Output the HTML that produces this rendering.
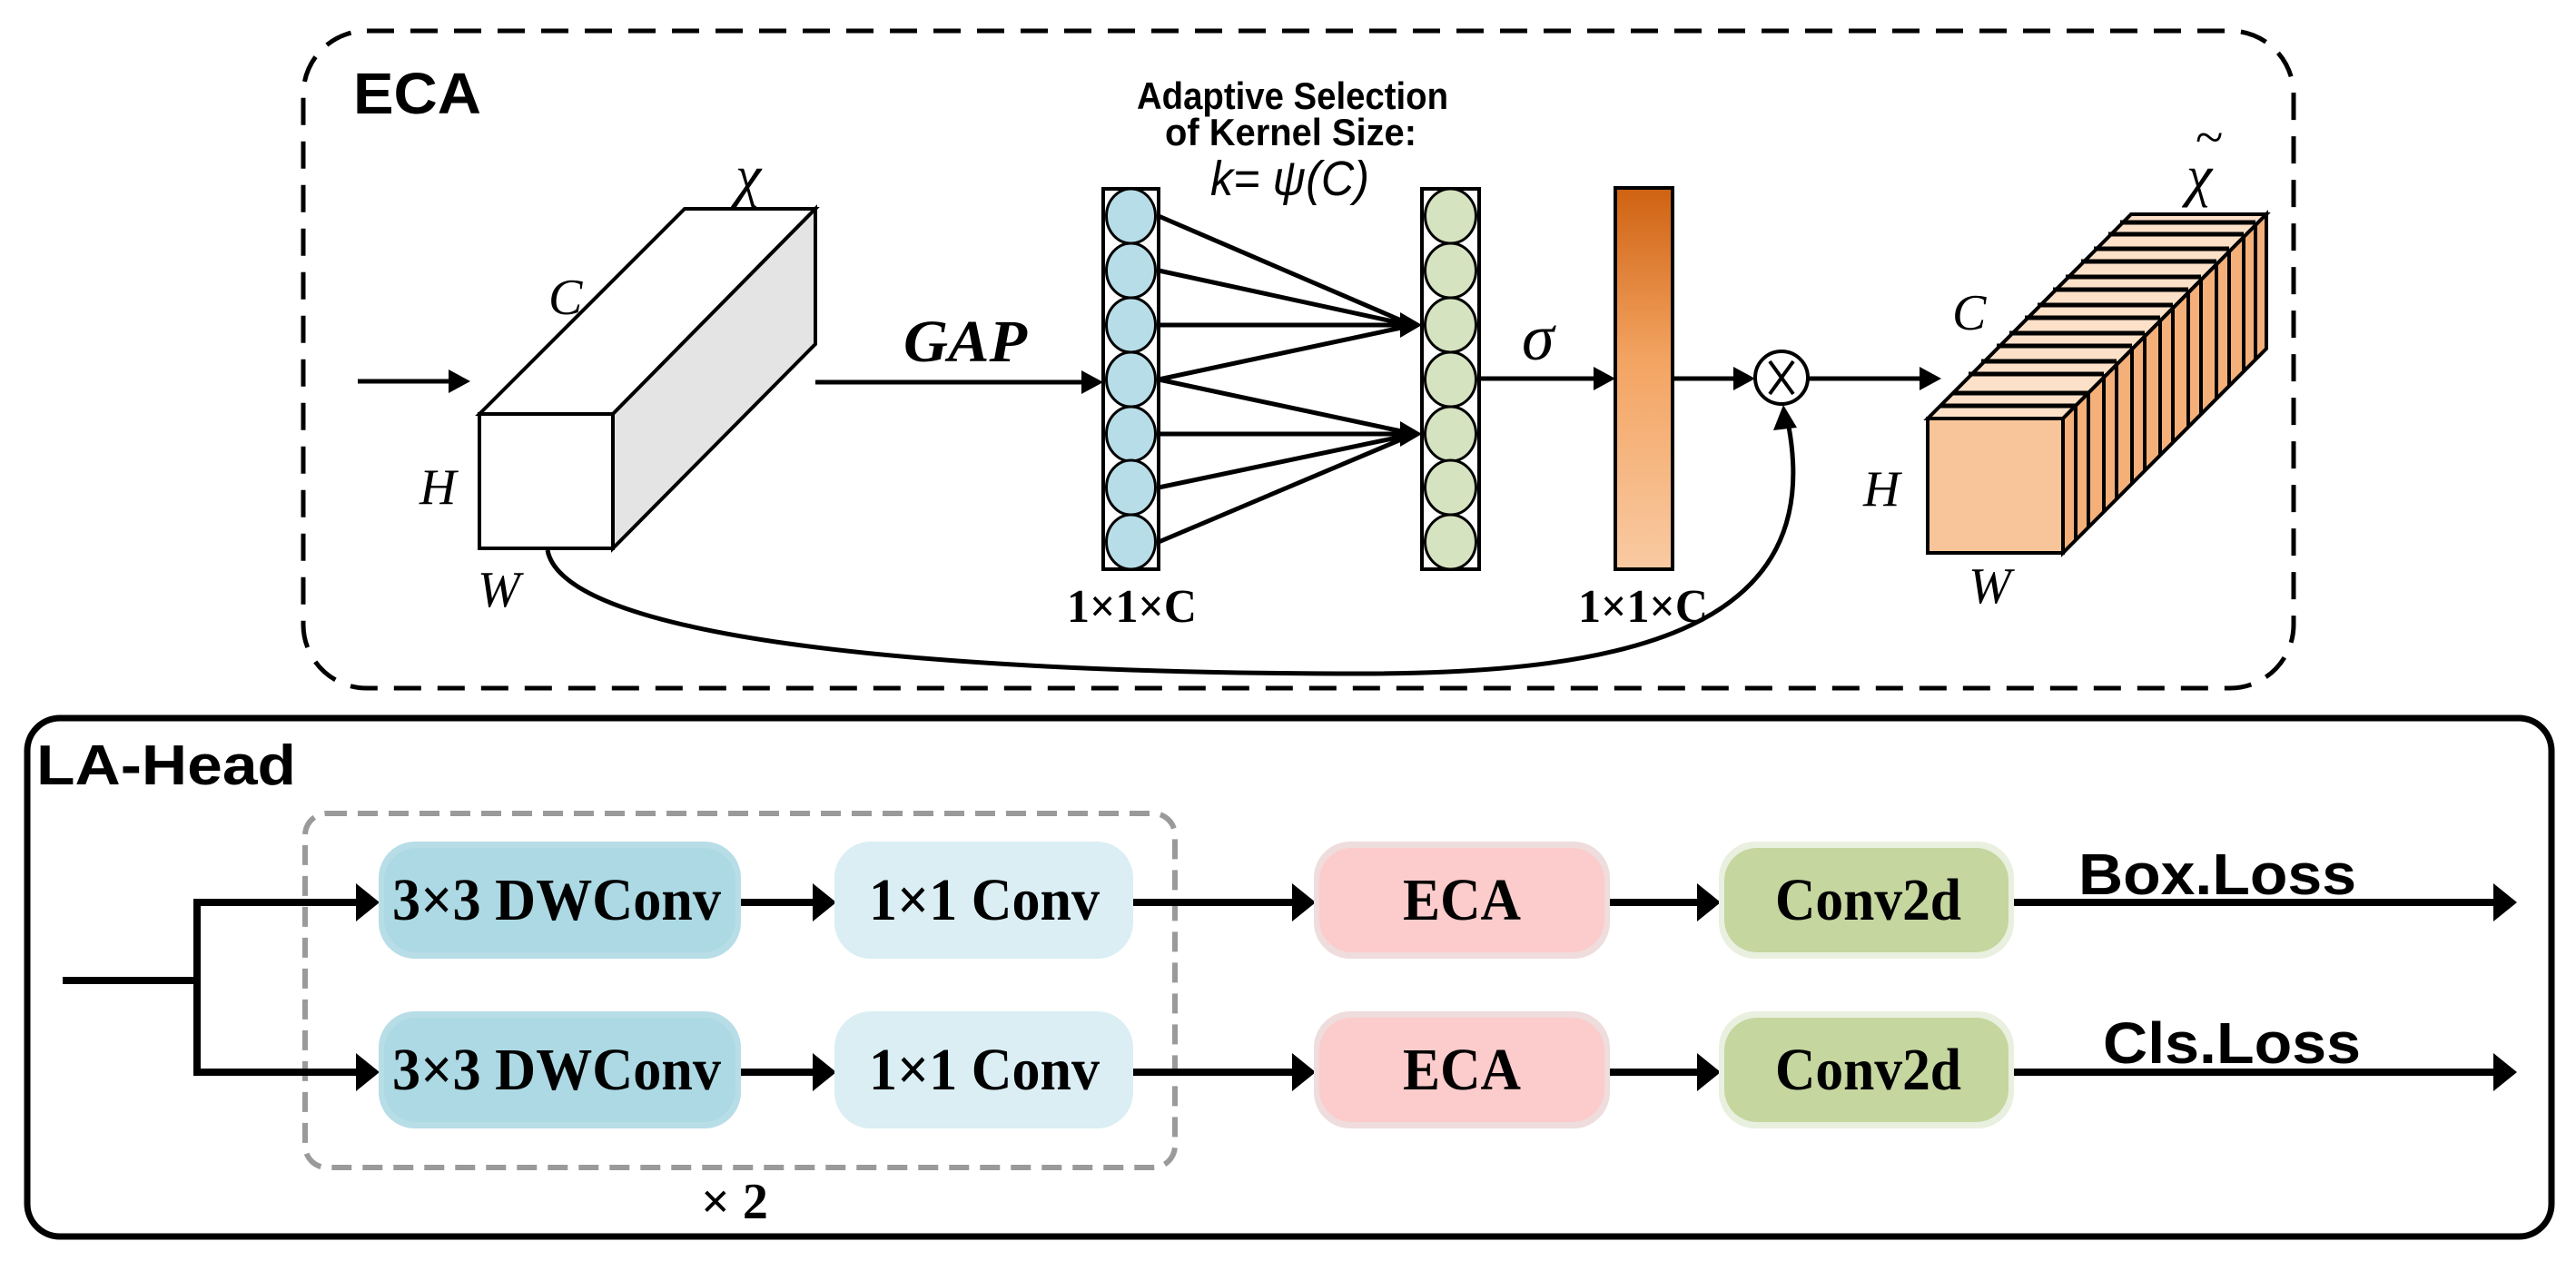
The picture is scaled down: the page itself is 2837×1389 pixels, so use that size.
<!DOCTYPE html>
<html><head><meta charset="utf-8"><style>
html,body{margin:0;padding:0;background:#fff;}
svg{display:block;}
</style></head><body>
<svg width="2837" height="1389" viewBox="0 0 2837 1389" xmlns="http://www.w3.org/2000/svg">
<defs>
<linearGradient id="og" x1="0" y1="0" x2="0" y2="1">
<stop offset="0" stop-color="#cf6212"/><stop offset="0.45" stop-color="#f3a462"/><stop offset="1" stop-color="#f9caa2"/>
</linearGradient>
</defs>

<!-- ECA dashed box -->
<rect x="334" y="34" width="2192" height="724" rx="70" fill="none" stroke="#000" stroke-width="5" stroke-dasharray="30,18"/>
<text x="389" y="125" font-family="Liberation Sans, sans-serif" font-weight="bold" font-size="64" textLength="141" lengthAdjust="spacingAndGlyphs">ECA</text>

<!-- input arrow -->
<line x1="394" y1="420" x2="500" y2="420" stroke="#000" stroke-width="5"/>
<polygon points="518,420 494,407 494,433" fill="#000"/>

<!-- left cuboid -->
<polygon points="528,456 754,230 898,230 675,456" fill="#fff" stroke="#000" stroke-width="4"/>
<polygon points="675,456 898,230 898,379 675,604" fill="#e4e4e4" stroke="#000" stroke-width="4"/>
<rect x="528" y="456" width="147" height="148" fill="#fff" stroke="#000" stroke-width="4"/>
<g font-family="Liberation Serif, serif" font-style="italic" font-size="56">
<text x="810" y="215" font-size="64">χ</text>
<text x="604" y="346">C</text>
<text x="462" y="555">H</text>
<text x="526" y="668">W</text>
</g>

<!-- GAP -->
<text x="995" y="398" font-family="Liberation Serif, serif" font-style="italic" font-weight="bold" font-size="66" textLength="136" lengthAdjust="spacingAndGlyphs">GAP</text>
<line x1="898" y1="421" x2="1195" y2="421" stroke="#000" stroke-width="5"/>
<polygon points="1215,421 1191,408 1191,434" fill="#000"/>

<!-- Adaptive text -->
<g font-family="Liberation Sans, sans-serif" font-weight="bold" font-size="42">
<text x="1252" y="120" textLength="343" lengthAdjust="spacingAndGlyphs">Adaptive Selection</text>
<text x="1283" y="160" textLength="277" lengthAdjust="spacingAndGlyphs">of Kernel Size:</text>
</g>
<text x="1333" y="215" font-family="Liberation Sans, sans-serif" font-style="italic" font-size="54" textLength="175" lengthAdjust="spacingAndGlyphs">k= ψ(C)</text>

<!-- connections -->
<g stroke="#000" stroke-width="5">
<line x1="1276" y1="238" x2="1548" y2="355"/>
<line x1="1276" y1="298" x2="1548" y2="357"/>
<line x1="1276" y1="358" x2="1548" y2="358"/>
<line x1="1276" y1="418" x2="1548" y2="360"/>
<line x1="1276" y1="418" x2="1548" y2="476"/>
<line x1="1276" y1="478" x2="1548" y2="478"/>
<line x1="1276" y1="537" x2="1548" y2="480"/>
<line x1="1276" y1="597" x2="1548" y2="482"/>
</g>
<polygon points="1566,358 1542,344 1542,372" fill="#000"/>
<polygon points="1566,478 1542,464 1542,492" fill="#000"/>

<!-- blue column -->
<rect x="1215" y="208" width="61" height="419" fill="#fff" stroke="#000" stroke-width="4"/>
<g fill="#b7dde8" stroke="#000" stroke-width="3">
<ellipse cx="1245.5" cy="238" rx="27" ry="30"/>
<ellipse cx="1245.5" cy="298" rx="27" ry="30"/>
<ellipse cx="1245.5" cy="358" rx="27" ry="30"/>
<ellipse cx="1245.5" cy="418" rx="27" ry="30"/>
<ellipse cx="1245.5" cy="478" rx="27" ry="30"/>
<ellipse cx="1245.5" cy="537" rx="27" ry="30"/>
<ellipse cx="1245.5" cy="597" rx="27" ry="30"/>
</g>
<!-- green column -->
<rect x="1566" y="208" width="63" height="419" fill="#fff" stroke="#000" stroke-width="4"/>
<g fill="#d6e3c0" stroke="#000" stroke-width="3">
<ellipse cx="1597.5" cy="238" rx="28" ry="30"/>
<ellipse cx="1597.5" cy="298" rx="28" ry="30"/>
<ellipse cx="1597.5" cy="358" rx="28" ry="30"/>
<ellipse cx="1597.5" cy="418" rx="28" ry="30"/>
<ellipse cx="1597.5" cy="478" rx="28" ry="30"/>
<ellipse cx="1597.5" cy="537" rx="28" ry="30"/>
<ellipse cx="1597.5" cy="597" rx="28" ry="30"/>
</g>
<text x="1175" y="685" font-family="Liberation Serif, serif" font-weight="bold" font-size="52" textLength="143" lengthAdjust="spacingAndGlyphs">1×1×C</text>

<!-- sigma -->
<text x="1676" y="396" font-family="Liberation Serif, serif" font-style="italic" font-size="72">σ</text>
<line x1="1629" y1="417" x2="1760" y2="417" stroke="#000" stroke-width="5"/>
<polygon points="1779,417 1755,404 1755,430" fill="#000"/>

<!-- orange bar -->
<rect x="1779" y="207" width="63" height="420" fill="url(#og)" stroke="#000" stroke-width="4"/>
<text x="1738" y="685" font-family="Liberation Serif, serif" font-weight="bold" font-size="52" textLength="143" lengthAdjust="spacingAndGlyphs">1×1×C</text>

<line x1="1842" y1="417" x2="1915" y2="417" stroke="#000" stroke-width="5"/>
<polygon points="1933,417 1909,404 1909,430" fill="#000"/>
<circle cx="1962" cy="416" r="29" fill="#fff" stroke="#000" stroke-width="4"/>
<path d="M1949,398 L1975,434 M1975,398 L1949,434" stroke="#000" stroke-width="4"/>
<line x1="1991" y1="417" x2="2118" y2="417" stroke="#000" stroke-width="5"/>
<polygon points="2138,417 2114,404 2114,430" fill="#000"/>

<!-- curve -->
<path d="M603,606 C620,700 1000,742 1500,742 C1800,742 2010,690 1970,470" fill="none" stroke="#000" stroke-width="5"/>
<polygon points="1964,446 1953,474 1979,471" fill="#000"/>

<!-- right cuboid -->
<polygon points="2123,461 2347,236 2496,236 2272,461" fill="#fde0c8" stroke="#000" stroke-width="4"/>
<polygon points="2272,461 2496,236 2496,384 2272,609" fill="#f5b07a" stroke="#000" stroke-width="4"/>
<g stroke="#000" stroke-width="5">
<line x1="2137" y1="447" x2="2286" y2="447"/>
<line x1="2151" y1="433" x2="2300" y2="433"/>
<line x1="2168" y1="412" x2="2317" y2="412"/>
<line x1="2182" y1="398" x2="2331" y2="398"/>
<line x1="2199" y1="381" x2="2348" y2="381"/>
<line x1="2213" y1="367" x2="2362" y2="367"/>
<line x1="2230" y1="350" x2="2379" y2="350"/>
<line x1="2244" y1="336" x2="2393" y2="336"/>
<line x1="2261" y1="319" x2="2410" y2="319"/>
<line x1="2275" y1="305" x2="2424" y2="305"/>
<line x1="2292" y1="288" x2="2441" y2="288"/>
<line x1="2306" y1="274" x2="2455" y2="274"/>
<line x1="2322" y1="258" x2="2471" y2="258"/>
<line x1="2335" y1="245" x2="2484" y2="245"/>
</g>
<g stroke="#000" stroke-width="4">
<line x1="2286" y1="447" x2="2286" y2="595"/>
<line x1="2300" y1="433" x2="2300" y2="581"/>
<line x1="2317" y1="412" x2="2317" y2="564"/>
<line x1="2331" y1="398" x2="2331" y2="550"/>
<line x1="2348" y1="381" x2="2348" y2="533"/>
<line x1="2362" y1="367" x2="2362" y2="519"/>
<line x1="2379" y1="350" x2="2379" y2="502"/>
<line x1="2393" y1="336" x2="2393" y2="488"/>
<line x1="2410" y1="319" x2="2410" y2="471"/>
<line x1="2424" y1="305" x2="2424" y2="457"/>
<line x1="2441" y1="288" x2="2441" y2="440"/>
<line x1="2455" y1="274" x2="2455" y2="426"/>
<line x1="2471" y1="258" x2="2471" y2="409"/>
<line x1="2484" y1="245" x2="2484" y2="396"/>
</g>
<rect x="2123" y="461" width="149" height="148" fill="#f8c59a" stroke="#000" stroke-width="4"/>
<g font-family="Liberation Serif, serif" font-style="italic" font-size="56">
<text x="2408" y="215" font-size="64">χ</text>
<text x="2418" y="170" font-size="56" font-style="normal">~</text>
<text x="2150" y="363">C</text>
<text x="2052" y="557">H</text>
<text x="2168" y="664">W</text>
</g>

<!-- LA-Head box -->
<rect x="30" y="791" width="2780" height="571" rx="36" fill="none" stroke="#000" stroke-width="7"/>
<text x="40" y="864" font-family="Liberation Sans, sans-serif" font-weight="bold" font-size="62" textLength="286" lengthAdjust="spacingAndGlyphs">LA-Head</text>

<!-- gray dashed -->
<rect x="336" y="896" width="958" height="390" rx="24" fill="none" stroke="#9a9a9a" stroke-width="6" stroke-dasharray="22,12"/>
<text x="772" y="1342" font-family="Liberation Serif, serif" font-weight="bold" font-size="56">× 2</text>

<!-- lines -->
<g stroke="#000" stroke-width="8" fill="none">
<line x1="69" y1="1080" x2="221" y2="1080"/>
<line x1="217" y1="990" x2="217" y2="1185"/>
<line x1="217" y1="994" x2="396" y2="994"/>
<line x1="217" y1="1181" x2="396" y2="1181"/>
<line x1="814" y1="994" x2="900" y2="994"/>
<line x1="814" y1="1181" x2="900" y2="1181"/>
<line x1="1248" y1="994" x2="1428" y2="994"/>
<line x1="1248" y1="1181" x2="1428" y2="1181"/>
<line x1="1773" y1="994" x2="1874" y2="994"/>
<line x1="1773" y1="1181" x2="1874" y2="1181"/>
<line x1="2218" y1="994" x2="2752" y2="994"/>
<line x1="2218" y1="1181" x2="2752" y2="1181"/>
</g>
<g fill="#000">
<polygon points="418,994 392,973 392,1015"/>
<polygon points="418,1181 392,1160 392,1202"/>
<polygon points="921,994 895,973 895,1015"/>
<polygon points="921,1181 895,1160 895,1202"/>
<polygon points="1449,994 1423,973 1423,1015"/>
<polygon points="1449,1181 1423,1160 1423,1202"/>
<polygon points="1895,994 1869,973 1869,1015"/>
<polygon points="1895,1181 1869,1160 1869,1202"/>
<polygon points="2772,994 2746,973 2746,1015"/>
<polygon points="2772,1181 2746,1160 2746,1202"/>
</g>

<!-- boxes -->
<g>
<rect x="417" y="927" width="399" height="129" rx="40" fill="#b7dde7"/>
<rect x="423" y="934" width="387" height="115" rx="36" fill="#acd9e4"/>
<rect x="919" y="927" width="329" height="129" rx="40" fill="#daeef4"/>
<rect x="1447" y="927" width="326" height="129" rx="40" fill="#efdcdc"/>
<rect x="1453" y="934" width="314" height="115" rx="36" fill="#fccbcb"/>
<rect x="1893" y="927" width="325" height="129" rx="40" fill="#e9f0df"/>
<rect x="1899" y="934" width="313" height="115" rx="36" fill="#c5d69f"/>

<rect x="417" y="1114" width="399" height="129" rx="40" fill="#b7dde7"/>
<rect x="423" y="1121" width="387" height="115" rx="36" fill="#acd9e4"/>
<rect x="919" y="1114" width="329" height="129" rx="40" fill="#daeef4"/>
<rect x="1447" y="1114" width="326" height="129" rx="40" fill="#efdcdc"/>
<rect x="1453" y="1121" width="314" height="115" rx="36" fill="#fccbcb"/>
<rect x="1893" y="1114" width="325" height="129" rx="40" fill="#e9f0df"/>
<rect x="1899" y="1121" width="313" height="115" rx="36" fill="#c5d69f"/>
</g>
<g font-family="Liberation Serif, serif" font-weight="bold" font-size="66">
<text x="432" y="1013" textLength="362" lengthAdjust="spacingAndGlyphs">3×3 DWConv</text>
<text x="957" y="1013" textLength="254" lengthAdjust="spacingAndGlyphs">1×1 Conv</text>
<text x="1545" y="1013" textLength="130" lengthAdjust="spacingAndGlyphs">ECA</text>
<text x="1955" y="1013" textLength="205" lengthAdjust="spacingAndGlyphs">Conv2d</text>
<text x="432" y="1200" textLength="362" lengthAdjust="spacingAndGlyphs">3×3 DWConv</text>
<text x="957" y="1200" textLength="254" lengthAdjust="spacingAndGlyphs">1×1 Conv</text>
<text x="1545" y="1200" textLength="130" lengthAdjust="spacingAndGlyphs">ECA</text>
<text x="1955" y="1200" textLength="205" lengthAdjust="spacingAndGlyphs">Conv2d</text>
</g>
<g font-family="Liberation Sans, sans-serif" font-weight="bold" font-size="64">
<text x="2289" y="985" textLength="306" lengthAdjust="spacingAndGlyphs">Box.Loss</text>
<text x="2316" y="1171" textLength="284" lengthAdjust="spacingAndGlyphs">Cls.Loss</text>
</g>
</svg>
</body></html>
